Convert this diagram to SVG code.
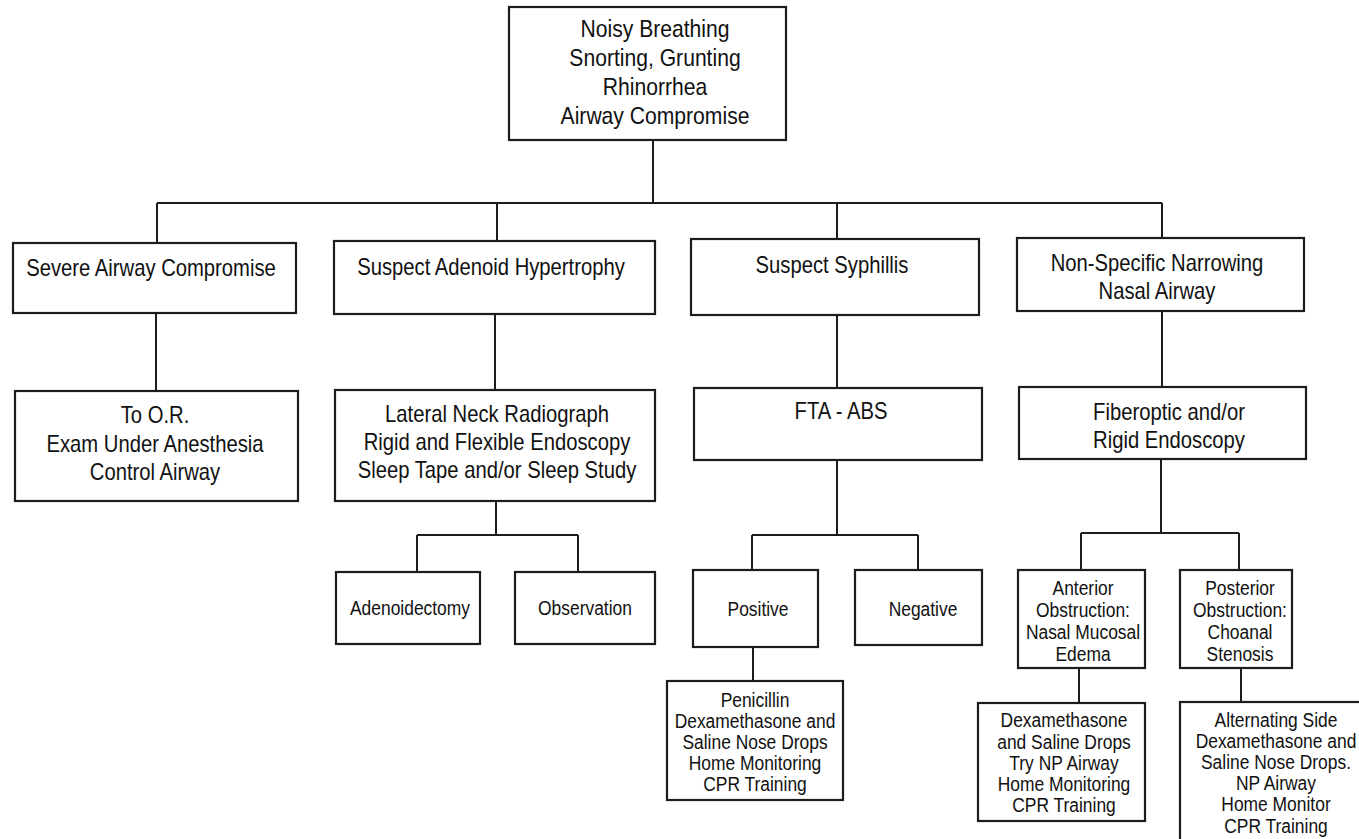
<svg xmlns="http://www.w3.org/2000/svg" width="1359" height="839" viewBox="0 0 1359 839">
<style>
rect{fill:#fff;stroke:#1c1c1c;stroke-width:2.2}
#connectors path{fill:none;stroke:#1c1c1c;stroke-width:2}
text{font-family:"Liberation Sans",Arial,sans-serif;fill:#111;text-anchor:middle}
.t{font-size:24px}
.m{font-size:23px}
.s{font-size:21px}
</style>
<rect x="0" y="0" width="1359" height="839" style="fill:#fff;stroke:none"/>
<g id="connectors">
<path d="M653 140V203M157 203H1162M157 203V243M497 203V241M837 203V239M1162 203V238"/>
<path d="M156 313V391M495 314V390M837 315V388M1162 311V387"/>
<path d="M496 501V535M417 535H578M417 535V572M578 535V572"/>
<path d="M837 460V535M752 535H918M752 535V570M918 535V570M753 647V681"/>
<path d="M1161 459V533M1081 533H1239M1081 533V570M1239 533V570M1079 668V703M1241 668V703"/>
</g>
<g id="n-top"><rect x="509" y="7" width="277" height="133"/>
<text class="t" transform="matrix(0.88 0 0 1 655 0)"><tspan x="0" y="37">Noisy Breathing</tspan><tspan x="0" y="66">Snorting, Grunting</tspan><tspan x="0" y="95">Rhinorrhea</tspan><tspan x="0" y="124">Airway Compromise</tspan></text></g>
<g id="n-severe"><rect x="13" y="243" width="283" height="70"/><text class="m" transform="matrix(0.88 0 0 1 151 0)" x="0" y="276">Severe Airway Compromise</text></g>
<g id="n-adenoid"><rect x="334" y="241" width="321" height="73"/><text class="m" transform="matrix(0.88 0 0 1 491 0)" x="0" y="275">Suspect Adenoid Hypertrophy</text></g>
<g id="n-syph"><rect x="691" y="239" width="288" height="76"/><text class="m" transform="matrix(0.88 0 0 1 832 0)" x="0" y="273">Suspect Syphillis</text></g>
<g id="n-nonspec"><rect x="1017" y="238" width="287" height="73"/><text class="m" transform="matrix(0.88 0 0 1 1157 0)"><tspan x="0" y="271">Non-Specific Narrowing</tspan><tspan x="0" y="299">Nasal Airway</tspan></text></g>
<g id="n-or"><rect x="15" y="391" width="283" height="110"/><text class="m" transform="matrix(0.88 0 0 1 155 0)"><tspan x="0" y="423">To O.R.</tspan><tspan x="0" y="452">Exam Under Anesthesia</tspan><tspan x="0" y="480">Control Airway</tspan></text></g>
<g id="n-lateral"><rect x="335" y="390" width="320" height="111"/><text class="m" transform="matrix(0.88 0 0 1 497 0)"><tspan x="0" y="422">Lateral Neck Radiograph</tspan><tspan x="0" y="450">Rigid and Flexible Endoscopy</tspan><tspan x="0" y="478">Sleep Tape and/or Sleep Study</tspan></text></g>
<g id="n-fta"><rect x="694" y="388" width="288" height="72"/><text class="m" transform="matrix(0.88 0 0 1 841 0)" x="0" y="419">FTA - ABS</text></g>
<g id="n-fiber"><rect x="1019" y="387" width="287" height="72"/><text class="m" transform="matrix(0.88 0 0 1 1169 0)"><tspan x="0" y="420">Fiberoptic and/or</tspan><tspan x="0" y="448">Rigid Endoscopy</tspan></text></g>
<g id="n-adenoidectomy"><rect x="336" y="572" width="144" height="72"/><text class="s" transform="matrix(0.83 0 0 1 410 0)" x="0" y="615">Adenoidectomy</text></g>
<g id="n-observation"><rect x="515" y="572" width="140" height="72"/><text class="s" transform="matrix(0.83 0 0 1 585 0)" x="0" y="615">Observation</text></g>
<g id="n-positive"><rect x="693" y="570" width="125" height="77"/><text class="s" transform="matrix(0.83 0 0 1 758 0)" x="0" y="616">Positive</text></g>
<g id="n-negative"><rect x="855" y="570" width="127" height="75"/><text class="s" transform="matrix(0.83 0 0 1 923 0)" x="0" y="616">Negative</text></g>
<g id="n-penicillin"><rect x="667" y="681" width="176" height="119"/><text class="s" transform="matrix(0.83 0 0 1 755 0)"><tspan x="0" y="707">Penicillin</tspan><tspan x="0" y="728">Dexamethasone and</tspan><tspan x="0" y="749">Saline Nose Drops</tspan><tspan x="0" y="770">Home Monitoring</tspan><tspan x="0" y="791">CPR Training</tspan></text></g>
<g id="n-anterior"><rect x="1018" y="570" width="127" height="98"/><text class="s" transform="matrix(0.83 0 0 1 1083 0)"><tspan x="0" y="595">Anterior</tspan><tspan x="0" y="617">Obstruction:</tspan><tspan x="0" y="639">Nasal Mucosal</tspan><tspan x="0" y="661">Edema</tspan></text></g>
<g id="n-posterior"><rect x="1180" y="570" width="112" height="98"/><text class="s" transform="matrix(0.83 0 0 1 1240 0)"><tspan x="0" y="595">Posterior</tspan><tspan x="0" y="617">Obstruction:</tspan><tspan x="0" y="639">Choanal</tspan><tspan x="0" y="661">Stenosis</tspan></text></g>
<g id="n-dexa"><rect x="978" y="703" width="167" height="118"/><text class="s" transform="matrix(0.83 0 0 1 1064 0)"><tspan x="0" y="727">Dexamethasone</tspan><tspan x="0" y="749">and Saline Drops</tspan><tspan x="0" y="770">Try NP Airway</tspan><tspan x="0" y="791">Home Monitoring</tspan><tspan x="0" y="812">CPR Training</tspan></text></g>
<g id="n-alternating"><rect x="1180" y="702" width="190" height="150"/><text class="s" transform="matrix(0.83 0 0 1 1276 0)"><tspan x="0" y="727">Alternating Side</tspan><tspan x="0" y="748">Dexamethasone and</tspan><tspan x="0" y="769">Saline Nose Drops.</tspan><tspan x="0" y="790">NP Airway</tspan><tspan x="0" y="811">Home Monitor</tspan><tspan x="0" y="833">CPR Training</tspan></text></g>
</svg>
